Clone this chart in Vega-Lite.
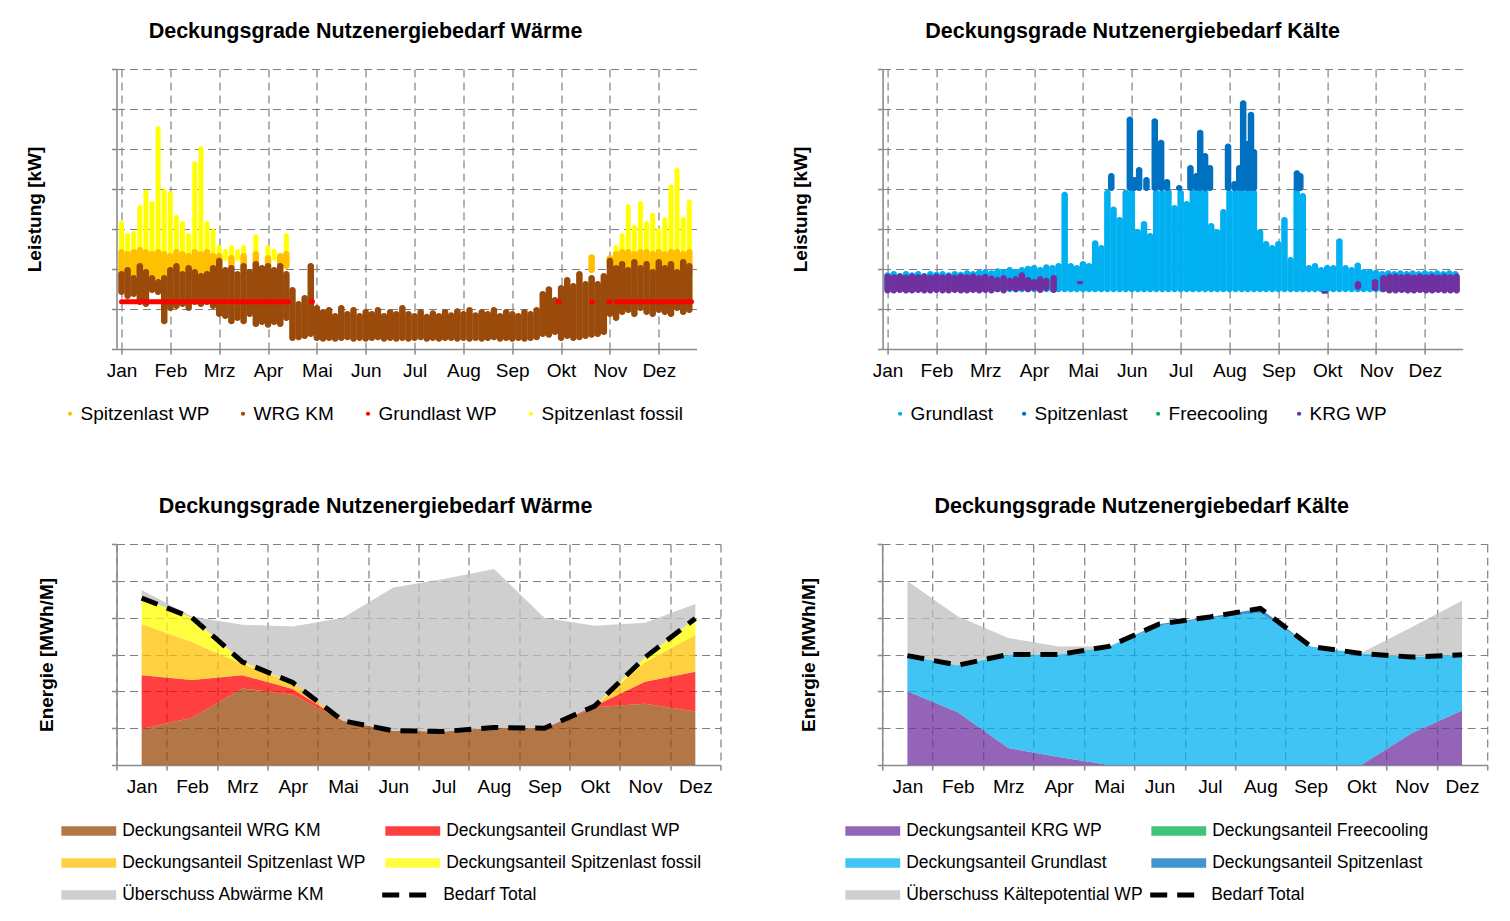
{
  "$schema": "https://vega.github.io/schema/vega-lite/v6.json",
  "background": "white",
  "padding": {"left": 25.5, "top": 20, "right": 5, "bottom": 5},
  "config": {
    "font": "Liberation Sans",
    "view": {"stroke": null},
    "axis": {
      "domainColor": "#8c8c8c", "domainWidth": 1.6,
      "tickColor": "#8c8c8c", "tickWidth": 1.6, "tickSize": 5,
      "grid": true, "gridColor": "#808080", "gridDash": [8, 5], "gridWidth": 1.2,
      "labelColor": "#000", "labelFontSize": 19, "labelPadding": 7, "labelFlush": false, "labelOverlap": false,
      "titleColor": "#000", "titleFontSize": 19, "titleFontWeight": "bold"
    },
    "title": {"fontSize": 21.5, "fontWeight": "bold", "color": "#000", "anchor": "middle", "frame": "group", "offset": 26},
    "legend": {"labelColor": "#000", "labelLimit": 500}
  },
  "datasets": {
    "tw": [
      {"s":"Spitzenlast fossil","t":0,"lo":2.2,"hi":3.2},
      {"s":"Spitzenlast fossil","t":0.125,"lo":2.2,"hi":2.9},
      {"s":"Spitzenlast fossil","t":0.25,"lo":2.2,"hi":2.95},
      {"s":"Spitzenlast fossil","t":0.375,"lo":2.2,"hi":3.6},
      {"s":"Spitzenlast fossil","t":0.5,"lo":2.2,"hi":3.99},
      {"s":"Spitzenlast fossil","t":0.625,"lo":2.2,"hi":3.7},
      {"s":"Spitzenlast fossil","t":0.75,"lo":2.2,"hi":5.57},
      {"s":"Spitzenlast fossil","t":0.875,"lo":2.2,"hi":4.0},
      {"s":"Spitzenlast fossil","t":1.0,"lo":2.2,"hi":3.95},
      {"s":"Spitzenlast fossil","t":1.125,"lo":2.2,"hi":3.35},
      {"s":"Spitzenlast fossil","t":1.25,"lo":2.2,"hi":3.2},
      {"s":"Spitzenlast fossil","t":1.375,"lo":2.2,"hi":2.9},
      {"s":"Spitzenlast fossil","t":1.5,"lo":2.2,"hi":4.7},
      {"s":"Spitzenlast fossil","t":1.625,"lo":2.2,"hi":5.07},
      {"s":"Spitzenlast fossil","t":1.75,"lo":2.2,"hi":3.2},
      {"s":"Spitzenlast fossil","t":1.875,"lo":2.2,"hi":3.0},
      {"s":"Spitzenlast fossil","t":2.0,"lo":2.2,"hi":2.6},
      {"s":"Spitzenlast fossil","t":2.125,"lo":2.2,"hi":2.5},
      {"s":"Spitzenlast fossil","t":2.25,"lo":2.2,"hi":2.6},
      {"s":"Spitzenlast fossil","t":2.375,"lo":2.2,"hi":2.5},
      {"s":"Spitzenlast fossil","t":2.5,"lo":2.2,"hi":2.6},
      {"s":"Spitzenlast fossil","t":2.75,"lo":2.2,"hi":2.87},
      {"s":"Spitzenlast fossil","t":3.0,"lo":2.2,"hi":2.6},
      {"s":"Spitzenlast fossil","t":3.125,"lo":2.2,"hi":2.5},
      {"s":"Spitzenlast fossil","t":3.375,"lo":2.2,"hi":2.9},
      {"s":"Spitzenlast fossil","t":10.125,"lo":2.2,"hi":2.6},
      {"s":"Spitzenlast fossil","t":10.25,"lo":2.2,"hi":2.9},
      {"s":"Spitzenlast fossil","t":10.375,"lo":2.2,"hi":3.62},
      {"s":"Spitzenlast fossil","t":10.5,"lo":2.2,"hi":3.1},
      {"s":"Spitzenlast fossil","t":10.625,"lo":2.2,"hi":3.7},
      {"s":"Spitzenlast fossil","t":10.75,"lo":2.2,"hi":3.2},
      {"s":"Spitzenlast fossil","t":10.875,"lo":2.2,"hi":3.41},
      {"s":"Spitzenlast fossil","t":11.0,"lo":2.2,"hi":3.03},
      {"s":"Spitzenlast fossil","t":11.125,"lo":2.2,"hi":3.3},
      {"s":"Spitzenlast fossil","t":11.25,"lo":2.2,"hi":4.12},
      {"s":"Spitzenlast fossil","t":11.375,"lo":2.2,"hi":4.53},
      {"s":"Spitzenlast fossil","t":11.5,"lo":2.2,"hi":3.3},
      {"s":"Spitzenlast fossil","t":11.625,"lo":2.2,"hi":3.74},
      {"s":"Spitzenlast WP","t":0,"lo":1.7,"hi":2.5},
      {"s":"Spitzenlast WP","t":0.125,"lo":1.7,"hi":2.45},
      {"s":"Spitzenlast WP","t":0.25,"lo":1.8,"hi":2.5},
      {"s":"Spitzenlast WP","t":0.375,"lo":1.8,"hi":2.55},
      {"s":"Spitzenlast WP","t":0.5,"lo":1.8,"hi":2.5},
      {"s":"Spitzenlast WP","t":0.625,"lo":1.8,"hi":2.45},
      {"s":"Spitzenlast WP","t":0.75,"lo":1.7,"hi":2.5},
      {"s":"Spitzenlast WP","t":0.875,"lo":1.7,"hi":2.45},
      {"s":"Spitzenlast WP","t":1.0,"lo":1.8,"hi":2.4},
      {"s":"Spitzenlast WP","t":1.125,"lo":1.8,"hi":2.5},
      {"s":"Spitzenlast WP","t":1.25,"lo":1.8,"hi":2.45},
      {"s":"Spitzenlast WP","t":1.375,"lo":1.8,"hi":2.4},
      {"s":"Spitzenlast WP","t":1.5,"lo":1.8,"hi":2.5},
      {"s":"Spitzenlast WP","t":1.625,"lo":1.8,"hi":2.45},
      {"s":"Spitzenlast WP","t":1.75,"lo":1.8,"hi":2.5},
      {"s":"Spitzenlast WP","t":1.875,"lo":1.9,"hi":2.4},
      {"s":"Spitzenlast WP","t":2.0,"lo":2.0,"hi":2.4},
      {"s":"Spitzenlast WP","t":2.25,"lo":2.0,"hi":2.35},
      {"s":"Spitzenlast WP","t":2.5,"lo":2.0,"hi":2.4},
      {"s":"Spitzenlast WP","t":2.75,"lo":2.0,"hi":2.45},
      {"s":"Spitzenlast WP","t":3.0,"lo":2.0,"hi":2.35},
      {"s":"Spitzenlast WP","t":3.25,"lo":2.0,"hi":2.4},
      {"s":"Spitzenlast WP","t":3.375,"lo":2.0,"hi":2.45},
      {"s":"Spitzenlast WP","t":9.625,"lo":1.9,"hi":2.37},
      {"s":"Spitzenlast WP","t":10.0,"lo":2.0,"hi":2.35},
      {"s":"Spitzenlast WP","t":10.125,"lo":1.8,"hi":2.45},
      {"s":"Spitzenlast WP","t":10.25,"lo":1.8,"hi":2.5},
      {"s":"Spitzenlast WP","t":10.375,"lo":1.8,"hi":2.5},
      {"s":"Spitzenlast WP","t":10.5,"lo":1.8,"hi":2.45},
      {"s":"Spitzenlast WP","t":10.625,"lo":1.8,"hi":2.5},
      {"s":"Spitzenlast WP","t":10.75,"lo":1.8,"hi":2.5},
      {"s":"Spitzenlast WP","t":10.875,"lo":1.8,"hi":2.45},
      {"s":"Spitzenlast WP","t":11.0,"lo":1.8,"hi":2.5},
      {"s":"Spitzenlast WP","t":11.125,"lo":1.8,"hi":2.45},
      {"s":"Spitzenlast WP","t":11.25,"lo":1.8,"hi":2.5},
      {"s":"Spitzenlast WP","t":11.375,"lo":1.8,"hi":2.5},
      {"s":"Spitzenlast WP","t":11.5,"lo":1.8,"hi":2.45},
      {"s":"Spitzenlast WP","t":11.625,"lo":1.8,"hi":2.5},
      {"s":"WRG KM","t":0,"lo":1.35,"hi":1.95},
      {"s":"WRG KM","t":0.125,"lo":1.25,"hi":2.05},
      {"s":"WRG KM","t":0.25,"lo":1.3,"hi":1.85},
      {"s":"WRG KM","t":0.375,"lo":1.1,"hi":2.15},
      {"s":"WRG KM","t":0.5,"lo":1.05,"hi":2.0},
      {"s":"WRG KM","t":0.625,"lo":1.4,"hi":1.85},
      {"s":"WRG KM","t":0.75,"lo":1.35,"hi":1.75},
      {"s":"WRG KM","t":0.875,"lo":0.62,"hi":1.85},
      {"s":"WRG KM","t":1.0,"lo":0.95,"hi":2.05},
      {"s":"WRG KM","t":1.125,"lo":1.0,"hi":2.15},
      {"s":"WRG KM","t":1.25,"lo":1.05,"hi":1.95},
      {"s":"WRG KM","t":1.375,"lo":0.95,"hi":2.1},
      {"s":"WRG KM","t":1.5,"lo":1.1,"hi":2.0},
      {"s":"WRG KM","t":1.625,"lo":1.05,"hi":1.9},
      {"s":"WRG KM","t":1.75,"lo":1.1,"hi":1.95},
      {"s":"WRG KM","t":1.875,"lo":1.0,"hi":2.1},
      {"s":"WRG KM","t":2.0,"lo":0.8,"hi":2.28},
      {"s":"WRG KM","t":2.125,"lo":0.75,"hi":2.05},
      {"s":"WRG KM","t":2.25,"lo":0.62,"hi":2.1},
      {"s":"WRG KM","t":2.375,"lo":0.7,"hi":1.95},
      {"s":"WRG KM","t":2.5,"lo":0.62,"hi":2.15},
      {"s":"WRG KM","t":2.625,"lo":0.8,"hi":2.0},
      {"s":"WRG KM","t":2.75,"lo":0.55,"hi":2.2},
      {"s":"WRG KM","t":2.875,"lo":0.6,"hi":2.1},
      {"s":"WRG KM","t":3.0,"lo":0.53,"hi":2.15},
      {"s":"WRG KM","t":3.125,"lo":0.6,"hi":2.05},
      {"s":"WRG KM","t":3.25,"lo":0.55,"hi":2.15},
      {"s":"WRG KM","t":3.375,"lo":0.7,"hi":1.95},
      {"s":"WRG KM","t":3.5,"lo":0.2,"hi":1.55},
      {"s":"WRG KM","t":3.625,"lo":0.22,"hi":1.2},
      {"s":"WRG KM","t":3.75,"lo":0.25,"hi":1.35},
      {"s":"WRG KM","t":3.875,"lo":0.3,"hi":2.15},
      {"s":"WRG KM","t":4.0,"lo":0.2,"hi":1.1},
      {"s":"WRG KM","t":4.125,"lo":0.18,"hi":1.0},
      {"s":"WRG KM","t":4.25,"lo":0.2,"hi":1.05},
      {"s":"WRG KM","t":4.375,"lo":0.18,"hi":0.9},
      {"s":"WRG KM","t":4.5,"lo":0.2,"hi":1.1},
      {"s":"WRG KM","t":4.625,"lo":0.22,"hi":0.95},
      {"s":"WRG KM","t":4.75,"lo":0.18,"hi":1.05},
      {"s":"WRG KM","t":4.875,"lo":0.2,"hi":0.9},
      {"s":"WRG KM","t":5.0,"lo":0.18,"hi":1.0},
      {"s":"WRG KM","t":5.125,"lo":0.2,"hi":0.95},
      {"s":"WRG KM","t":5.25,"lo":0.22,"hi":1.05},
      {"s":"WRG KM","t":5.375,"lo":0.18,"hi":0.9},
      {"s":"WRG KM","t":5.5,"lo":0.2,"hi":1.0},
      {"s":"WRG KM","t":5.625,"lo":0.18,"hi":0.95},
      {"s":"WRG KM","t":5.75,"lo":0.2,"hi":1.1},
      {"s":"WRG KM","t":5.875,"lo":0.18,"hi":0.95},
      {"s":"WRG KM","t":6.0,"lo":0.2,"hi":0.9},
      {"s":"WRG KM","t":6.125,"lo":0.22,"hi":1.0},
      {"s":"WRG KM","t":6.25,"lo":0.18,"hi":0.88},
      {"s":"WRG KM","t":6.375,"lo":0.2,"hi":0.97},
      {"s":"WRG KM","t":6.5,"lo":0.18,"hi":0.9},
      {"s":"WRG KM","t":6.625,"lo":0.2,"hi":1.0},
      {"s":"WRG KM","t":6.75,"lo":0.2,"hi":0.92},
      {"s":"WRG KM","t":6.875,"lo":0.18,"hi":1.02},
      {"s":"WRG KM","t":7.0,"lo":0.2,"hi":0.95},
      {"s":"WRG KM","t":7.125,"lo":0.18,"hi":1.05},
      {"s":"WRG KM","t":7.25,"lo":0.2,"hi":0.92},
      {"s":"WRG KM","t":7.375,"lo":0.18,"hi":1.0},
      {"s":"WRG KM","t":7.5,"lo":0.2,"hi":0.95},
      {"s":"WRG KM","t":7.625,"lo":0.22,"hi":1.05},
      {"s":"WRG KM","t":7.75,"lo":0.18,"hi":0.9},
      {"s":"WRG KM","t":7.875,"lo":0.2,"hi":1.0},
      {"s":"WRG KM","t":8.0,"lo":0.18,"hi":0.95},
      {"s":"WRG KM","t":8.125,"lo":0.2,"hi":0.9},
      {"s":"WRG KM","t":8.25,"lo":0.18,"hi":1.0},
      {"s":"WRG KM","t":8.375,"lo":0.2,"hi":0.95},
      {"s":"WRG KM","t":8.5,"lo":0.22,"hi":1.05},
      {"s":"WRG KM","t":8.625,"lo":0.3,"hi":1.45},
      {"s":"WRG KM","t":8.75,"lo":0.28,"hi":1.57},
      {"s":"WRG KM","t":8.875,"lo":0.35,"hi":1.3},
      {"s":"WRG KM","t":9.0,"lo":0.2,"hi":1.6},
      {"s":"WRG KM","t":9.125,"lo":0.25,"hi":1.8},
      {"s":"WRG KM","t":9.25,"lo":0.2,"hi":1.65},
      {"s":"WRG KM","t":9.375,"lo":0.22,"hi":1.95},
      {"s":"WRG KM","t":9.5,"lo":0.25,"hi":1.7},
      {"s":"WRG KM","t":9.625,"lo":0.28,"hi":1.85},
      {"s":"WRG KM","t":9.75,"lo":0.3,"hi":1.7},
      {"s":"WRG KM","t":9.875,"lo":0.35,"hi":1.9},
      {"s":"WRG KM","t":10.0,"lo":0.8,"hi":2.28},
      {"s":"WRG KM","t":10.125,"lo":0.7,"hi":2.1},
      {"s":"WRG KM","t":10.25,"lo":0.85,"hi":2.2},
      {"s":"WRG KM","t":10.375,"lo":0.9,"hi":2.05},
      {"s":"WRG KM","t":10.5,"lo":0.8,"hi":2.25},
      {"s":"WRG KM","t":10.625,"lo":0.95,"hi":2.1},
      {"s":"WRG KM","t":10.75,"lo":0.85,"hi":2.2},
      {"s":"WRG KM","t":10.875,"lo":0.8,"hi":2.0},
      {"s":"WRG KM","t":11.0,"lo":0.9,"hi":2.25},
      {"s":"WRG KM","t":11.125,"lo":0.85,"hi":2.1},
      {"s":"WRG KM","t":11.25,"lo":0.8,"hi":2.2},
      {"s":"WRG KM","t":11.375,"lo":0.95,"hi":2.0},
      {"s":"WRG KM","t":11.5,"lo":0.85,"hi":2.25},
      {"s":"WRG KM","t":11.625,"lo":0.9,"hi":2.15},
      {"s":"Grundlast WP","t":0,"t2":3.42,"lo":1.18,"hi":1.18},
      {"s":"Grundlast WP","t":3.89,"t2":3.91,"lo":1.18,"hi":1.18},
      {"s":"Grundlast WP","t":8.94,"t2":8.96,"lo":1.18,"hi":1.18},
      {"s":"Grundlast WP","t":9.62,"t2":9.64,"lo":1.18,"hi":1.18},
      {"s":"Grundlast WP","t":9.98,"t2":10.0,"lo":1.18,"hi":1.18},
      {"s":"Grundlast WP","t":10.13,"t2":11.67,"lo":1.18,"hi":1.18}
    ],
    "tk": [
      {"s":"Grundlast","t":0,"lo":1.42,"hi":1.92},
      {"s":"Grundlast","t":0.125,"lo":1.42,"hi":1.95},
      {"s":"Grundlast","t":0.25,"lo":1.42,"hi":1.9},
      {"s":"Grundlast","t":0.375,"lo":1.42,"hi":1.95},
      {"s":"Grundlast","t":0.5,"lo":1.42,"hi":1.92},
      {"s":"Grundlast","t":0.625,"lo":1.42,"hi":1.95},
      {"s":"Grundlast","t":0.75,"lo":1.42,"hi":1.9},
      {"s":"Grundlast","t":0.875,"lo":1.42,"hi":1.95},
      {"s":"Grundlast","t":1.0,"lo":1.42,"hi":1.93},
      {"s":"Grundlast","t":1.125,"lo":1.42,"hi":1.95},
      {"s":"Grundlast","t":1.25,"lo":1.42,"hi":1.92},
      {"s":"Grundlast","t":1.375,"lo":1.42,"hi":1.95},
      {"s":"Grundlast","t":1.5,"lo":1.42,"hi":1.93},
      {"s":"Grundlast","t":1.625,"lo":1.42,"hi":1.97},
      {"s":"Grundlast","t":1.75,"lo":1.42,"hi":1.95},
      {"s":"Grundlast","t":1.875,"lo":1.42,"hi":1.98},
      {"s":"Grundlast","t":2.0,"lo":1.42,"hi":2.0},
      {"s":"Grundlast","t":2.125,"lo":1.42,"hi":1.97},
      {"s":"Grundlast","t":2.25,"lo":1.42,"hi":2.02},
      {"s":"Grundlast","t":2.375,"lo":1.42,"hi":2.0},
      {"s":"Grundlast","t":2.5,"lo":1.42,"hi":2.05},
      {"s":"Grundlast","t":2.625,"lo":1.42,"hi":2.0},
      {"s":"Grundlast","t":2.75,"lo":1.42,"hi":2.05},
      {"s":"Grundlast","t":2.875,"lo":1.42,"hi":2.08},
      {"s":"Grundlast","t":3.0,"lo":1.42,"hi":2.1},
      {"s":"Grundlast","t":3.125,"lo":1.42,"hi":2.05},
      {"s":"Grundlast","t":3.25,"lo":1.42,"hi":2.12},
      {"s":"Grundlast","t":3.375,"lo":1.42,"hi":2.1},
      {"s":"Grundlast","t":3.5,"lo":1.42,"hi":2.15},
      {"s":"Grundlast","t":3.625,"lo":1.42,"hi":3.93},
      {"s":"Grundlast","t":3.75,"lo":1.42,"hi":2.15},
      {"s":"Grundlast","t":3.875,"lo":1.42,"hi":2.1},
      {"s":"Grundlast","t":4.0,"lo":1.42,"hi":2.2},
      {"s":"Grundlast","t":4.125,"lo":1.42,"hi":2.15},
      {"s":"Grundlast","t":4.25,"lo":1.42,"hi":2.72},
      {"s":"Grundlast","t":4.375,"lo":1.42,"hi":2.6},
      {"s":"Grundlast","t":4.5,"lo":1.42,"hi":3.98},
      {"s":"Grundlast","t":4.625,"lo":1.42,"hi":3.56},
      {"s":"Grundlast","t":4.75,"lo":1.42,"hi":3.3},
      {"s":"Grundlast","t":4.875,"lo":1.42,"hi":3.98},
      {"s":"Grundlast","t":5.0,"lo":1.42,"hi":3.98},
      {"s":"Grundlast","t":5.125,"lo":1.42,"hi":3.0},
      {"s":"Grundlast","t":5.25,"lo":1.42,"hi":3.2},
      {"s":"Grundlast","t":5.375,"lo":1.42,"hi":2.9},
      {"s":"Grundlast","t":5.5,"lo":1.42,"hi":3.98},
      {"s":"Grundlast","t":5.625,"lo":1.42,"hi":3.98},
      {"s":"Grundlast","t":5.75,"lo":1.42,"hi":4.0},
      {"s":"Grundlast","t":5.875,"lo":1.42,"hi":3.6},
      {"s":"Grundlast","t":6.0,"lo":1.42,"hi":3.98},
      {"s":"Grundlast","t":6.125,"lo":1.42,"hi":3.7},
      {"s":"Grundlast","t":6.25,"lo":1.42,"hi":3.98},
      {"s":"Grundlast","t":6.375,"lo":1.42,"hi":3.98},
      {"s":"Grundlast","t":6.5,"lo":1.42,"hi":4.0},
      {"s":"Grundlast","t":6.625,"lo":1.42,"hi":3.15},
      {"s":"Grundlast","t":6.75,"lo":1.42,"hi":3.0},
      {"s":"Grundlast","t":6.875,"lo":1.42,"hi":3.5},
      {"s":"Grundlast","t":7.0,"lo":1.42,"hi":3.98},
      {"s":"Grundlast","t":7.125,"lo":1.42,"hi":4.0},
      {"s":"Grundlast","t":7.25,"lo":1.42,"hi":3.98},
      {"s":"Grundlast","t":7.375,"lo":1.42,"hi":4.0},
      {"s":"Grundlast","t":7.5,"lo":1.42,"hi":3.98},
      {"s":"Grundlast","t":7.625,"lo":1.42,"hi":3.0},
      {"s":"Grundlast","t":7.75,"lo":1.42,"hi":2.7},
      {"s":"Grundlast","t":7.875,"lo":1.42,"hi":2.6},
      {"s":"Grundlast","t":8.0,"lo":1.42,"hi":2.7},
      {"s":"Grundlast","t":8.125,"lo":1.42,"hi":3.3},
      {"s":"Grundlast","t":8.25,"lo":1.42,"hi":2.3},
      {"s":"Grundlast","t":8.375,"lo":1.42,"hi":4.06},
      {"s":"Grundlast","t":8.5,"lo":1.42,"hi":3.9},
      {"s":"Grundlast","t":8.625,"lo":1.42,"hi":2.1},
      {"s":"Grundlast","t":8.75,"lo":1.42,"hi":2.15},
      {"s":"Grundlast","t":8.875,"lo":1.42,"hi":2.05},
      {"s":"Grundlast","t":9.0,"lo":1.42,"hi":2.1},
      {"s":"Grundlast","t":9.125,"lo":1.42,"hi":2.1},
      {"s":"Grundlast","t":9.25,"lo":1.42,"hi":2.77},
      {"s":"Grundlast","t":9.375,"lo":1.42,"hi":2.1},
      {"s":"Grundlast","t":9.5,"lo":1.42,"hi":2.05},
      {"s":"Grundlast","t":9.625,"lo":1.42,"hi":2.16},
      {"s":"Grundlast","t":9.75,"lo":1.42,"hi":2.0},
      {"s":"Grundlast","t":9.875,"lo":1.42,"hi":2.0},
      {"s":"Grundlast","t":10.0,"lo":1.42,"hi":1.98},
      {"s":"Grundlast","t":10.125,"lo":1.42,"hi":1.95},
      {"s":"Grundlast","t":10.25,"lo":1.42,"hi":1.97},
      {"s":"Grundlast","t":10.375,"lo":1.42,"hi":1.95},
      {"s":"Grundlast","t":10.5,"lo":1.42,"hi":1.97},
      {"s":"Grundlast","t":10.625,"lo":1.42,"hi":1.95},
      {"s":"Grundlast","t":10.75,"lo":1.42,"hi":1.97},
      {"s":"Grundlast","t":10.875,"lo":1.42,"hi":1.95},
      {"s":"Grundlast","t":11.0,"lo":1.42,"hi":1.97},
      {"s":"Grundlast","t":11.125,"lo":1.42,"hi":1.95},
      {"s":"Grundlast","t":11.25,"lo":1.42,"hi":1.97},
      {"s":"Grundlast","t":11.375,"lo":1.42,"hi":1.95},
      {"s":"Grundlast","t":11.5,"lo":1.42,"hi":1.97},
      {"s":"Grundlast","t":11.625,"lo":1.42,"hi":1.95},
      {"s":"Spitzenlast","t":4.58,"lo":3.95,"hi":4.4},
      {"s":"Spitzenlast","t":4.96,"lo":3.95,"hi":5.81},
      {"s":"Spitzenlast","t":5.05,"lo":3.95,"hi":4.3},
      {"s":"Spitzenlast","t":5.15,"lo":3.95,"hi":4.55},
      {"s":"Spitzenlast","t":5.3,"lo":3.95,"hi":4.3},
      {"s":"Spitzenlast","t":5.47,"lo":3.95,"hi":5.77},
      {"s":"Spitzenlast","t":5.6,"lo":3.95,"hi":5.23},
      {"s":"Spitzenlast","t":5.72,"lo":3.95,"hi":4.25},
      {"s":"Spitzenlast","t":5.97,"lo":3.95,"hi":4.1},
      {"s":"Spitzenlast","t":6.2,"lo":3.95,"hi":4.6},
      {"s":"Spitzenlast","t":6.32,"lo":3.95,"hi":4.4},
      {"s":"Spitzenlast","t":6.4,"lo":3.95,"hi":5.48},
      {"s":"Spitzenlast","t":6.5,"lo":3.95,"hi":4.9},
      {"s":"Spitzenlast","t":6.6,"lo":3.95,"hi":4.6},
      {"s":"Spitzenlast","t":6.97,"lo":3.95,"hi":5.14},
      {"s":"Spitzenlast","t":7.1,"lo":3.95,"hi":4.2},
      {"s":"Spitzenlast","t":7.2,"lo":3.95,"hi":4.6},
      {"s":"Spitzenlast","t":7.28,"lo":3.95,"hi":6.22},
      {"s":"Spitzenlast","t":7.36,"lo":3.95,"hi":5.2},
      {"s":"Spitzenlast","t":7.44,"lo":3.95,"hi":5.93},
      {"s":"Spitzenlast","t":7.5,"lo":3.95,"hi":5.0},
      {"s":"Spitzenlast","t":8.38,"lo":3.95,"hi":4.47},
      {"s":"Spitzenlast","t":8.45,"lo":3.95,"hi":4.4},
      {"s":"KRG WP","t":0,"lo":1.39,"hi":1.89},
      {"s":"KRG WP","t":0.125,"lo":1.39,"hi":1.87},
      {"s":"KRG WP","t":0.25,"lo":1.4,"hi":1.89},
      {"s":"KRG WP","t":0.375,"lo":1.39,"hi":1.86},
      {"s":"KRG WP","t":0.5,"lo":1.39,"hi":1.89},
      {"s":"KRG WP","t":0.625,"lo":1.4,"hi":1.87},
      {"s":"KRG WP","t":0.75,"lo":1.39,"hi":1.89},
      {"s":"KRG WP","t":0.875,"lo":1.39,"hi":1.86},
      {"s":"KRG WP","t":1.0,"lo":1.4,"hi":1.89},
      {"s":"KRG WP","t":1.125,"lo":1.39,"hi":1.87},
      {"s":"KRG WP","t":1.25,"lo":1.39,"hi":1.89},
      {"s":"KRG WP","t":1.375,"lo":1.4,"hi":1.86},
      {"s":"KRG WP","t":1.5,"lo":1.39,"hi":1.89},
      {"s":"KRG WP","t":1.625,"lo":1.39,"hi":1.87},
      {"s":"KRG WP","t":1.75,"lo":1.4,"hi":1.89},
      {"s":"KRG WP","t":1.875,"lo":1.39,"hi":1.85},
      {"s":"KRG WP","t":2.0,"lo":1.4,"hi":1.88},
      {"s":"KRG WP","t":2.125,"lo":1.39,"hi":1.84},
      {"s":"KRG WP","t":2.25,"lo":1.42,"hi":1.8},
      {"s":"KRG WP","t":2.375,"lo":1.39,"hi":1.85},
      {"s":"KRG WP","t":2.5,"lo":1.45,"hi":1.78},
      {"s":"KRG WP","t":2.625,"lo":1.42,"hi":1.82},
      {"s":"KRG WP","t":2.75,"lo":1.45,"hi":1.92},
      {"s":"KRG WP","t":2.875,"lo":1.42,"hi":1.8},
      {"s":"KRG WP","t":3.0,"lo":1.45,"hi":1.75},
      {"s":"KRG WP","t":3.125,"lo":1.4,"hi":1.82},
      {"s":"KRG WP","t":3.25,"lo":1.45,"hi":1.78},
      {"s":"KRG WP","t":3.4,"lo":1.4,"hi":1.85},
      {"s":"KRG WP","t":3.94,"lo":1.62,"hi":1.7},
      {"s":"KRG WP","t":8.95,"lo":1.38,"hi":1.45},
      {"s":"KRG WP","t":9.63,"lo":1.48,"hi":1.7},
      {"s":"KRG WP","t":9.98,"lo":1.45,"hi":1.75},
      {"s":"KRG WP","t":10.15,"lo":1.42,"hi":1.85},
      {"s":"KRG WP","t":10.275,"lo":1.39,"hi":1.88},
      {"s":"KRG WP","t":10.4,"lo":1.39,"hi":1.89},
      {"s":"KRG WP","t":10.525,"lo":1.4,"hi":1.87},
      {"s":"KRG WP","t":10.65,"lo":1.39,"hi":1.89},
      {"s":"KRG WP","t":10.775,"lo":1.39,"hi":1.86},
      {"s":"KRG WP","t":10.9,"lo":1.4,"hi":1.89},
      {"s":"KRG WP","t":11.025,"lo":1.39,"hi":1.87},
      {"s":"KRG WP","t":11.15,"lo":1.39,"hi":1.89},
      {"s":"KRG WP","t":11.275,"lo":1.4,"hi":1.86},
      {"s":"KRG WP","t":11.4,"lo":1.39,"hi":1.89},
      {"s":"KRG WP","t":11.525,"lo":1.39,"hi":1.87},
      {"s":"KRG WP","t":11.65,"lo":1.39,"hi":1.89}
    ],
    "bw": [
      {"m":"Jan","s":"Deckungsanteil WRG KM","lo":0,"hi":0.98},
      {"m":"Feb","s":"Deckungsanteil WRG KM","lo":0,"hi":1.28},
      {"m":"Mrz","s":"Deckungsanteil WRG KM","lo":0,"hi":2.08},
      {"m":"Apr","s":"Deckungsanteil WRG KM","lo":0,"hi":1.91},
      {"m":"Mai","s":"Deckungsanteil WRG KM","lo":0,"hi":1.2},
      {"m":"Jun","s":"Deckungsanteil WRG KM","lo":0,"hi":0.93},
      {"m":"Jul","s":"Deckungsanteil WRG KM","lo":0,"hi":0.91},
      {"m":"Aug","s":"Deckungsanteil WRG KM","lo":0,"hi":1.02},
      {"m":"Sep","s":"Deckungsanteil WRG KM","lo":0,"hi":1.0},
      {"m":"Okt","s":"Deckungsanteil WRG KM","lo":0,"hi":1.57},
      {"m":"Nov","s":"Deckungsanteil WRG KM","lo":0,"hi":1.66},
      {"m":"Dez","s":"Deckungsanteil WRG KM","lo":0,"hi":1.45},
      {"m":"Jan","s":"Deckungsanteil Grundlast WP","lo":0.98,"hi":2.44},
      {"m":"Feb","s":"Deckungsanteil Grundlast WP","lo":1.28,"hi":2.31},
      {"m":"Mrz","s":"Deckungsanteil Grundlast WP","lo":2.08,"hi":2.44},
      {"m":"Apr","s":"Deckungsanteil Grundlast WP","lo":1.91,"hi":2.06},
      {"m":"Mai","s":"Deckungsanteil Grundlast WP","lo":1.2,"hi":1.2},
      {"m":"Jun","s":"Deckungsanteil Grundlast WP","lo":0.93,"hi":0.93},
      {"m":"Jul","s":"Deckungsanteil Grundlast WP","lo":0.91,"hi":0.91},
      {"m":"Aug","s":"Deckungsanteil Grundlast WP","lo":1.02,"hi":1.02},
      {"m":"Sep","s":"Deckungsanteil Grundlast WP","lo":1.0,"hi":1.0},
      {"m":"Okt","s":"Deckungsanteil Grundlast WP","lo":1.57,"hi":1.6},
      {"m":"Nov","s":"Deckungsanteil Grundlast WP","lo":1.66,"hi":2.26},
      {"m":"Dez","s":"Deckungsanteil Grundlast WP","lo":1.45,"hi":2.53},
      {"m":"Jan","s":"Deckungsanteil Spitzenlast WP","lo":2.44,"hi":3.83},
      {"m":"Feb","s":"Deckungsanteil Spitzenlast WP","lo":2.31,"hi":3.33},
      {"m":"Mrz","s":"Deckungsanteil Spitzenlast WP","lo":2.44,"hi":2.74},
      {"m":"Apr","s":"Deckungsanteil Spitzenlast WP","lo":2.06,"hi":2.24},
      {"m":"Mai","s":"Deckungsanteil Spitzenlast WP","lo":1.2,"hi":1.2},
      {"m":"Jun","s":"Deckungsanteil Spitzenlast WP","lo":0.93,"hi":0.93},
      {"m":"Jul","s":"Deckungsanteil Spitzenlast WP","lo":0.91,"hi":0.91},
      {"m":"Aug","s":"Deckungsanteil Spitzenlast WP","lo":1.02,"hi":1.02},
      {"m":"Sep","s":"Deckungsanteil Spitzenlast WP","lo":1.0,"hi":1.0},
      {"m":"Okt","s":"Deckungsanteil Spitzenlast WP","lo":1.6,"hi":1.6},
      {"m":"Nov","s":"Deckungsanteil Spitzenlast WP","lo":2.26,"hi":2.79},
      {"m":"Dez","s":"Deckungsanteil Spitzenlast WP","lo":2.53,"hi":3.53},
      {"m":"Jan","s":"Deckungsanteil Spitzenlast fossil","lo":3.83,"hi":4.53},
      {"m":"Feb","s":"Deckungsanteil Spitzenlast fossil","lo":3.33,"hi":4.0},
      {"m":"Mrz","s":"Deckungsanteil Spitzenlast fossil","lo":2.74,"hi":2.8},
      {"m":"Apr","s":"Deckungsanteil Spitzenlast fossil","lo":2.24,"hi":2.24},
      {"m":"Mai","s":"Deckungsanteil Spitzenlast fossil","lo":1.2,"hi":1.2},
      {"m":"Jun","s":"Deckungsanteil Spitzenlast fossil","lo":0.93,"hi":0.93},
      {"m":"Jul","s":"Deckungsanteil Spitzenlast fossil","lo":0.91,"hi":0.91},
      {"m":"Aug","s":"Deckungsanteil Spitzenlast fossil","lo":1.02,"hi":1.02},
      {"m":"Sep","s":"Deckungsanteil Spitzenlast fossil","lo":1.0,"hi":1.0},
      {"m":"Okt","s":"Deckungsanteil Spitzenlast fossil","lo":1.6,"hi":1.6},
      {"m":"Nov","s":"Deckungsanteil Spitzenlast fossil","lo":2.79,"hi":2.92},
      {"m":"Dez","s":"Deckungsanteil Spitzenlast fossil","lo":3.53,"hi":3.98},
      {"m":"Jan","s":"Überschuss Abwärme KM","lo":4.53,"hi":4.75},
      {"m":"Feb","s":"Überschuss Abwärme KM","lo":4.0,"hi":4.03},
      {"m":"Mrz","s":"Überschuss Abwärme KM","lo":2.8,"hi":3.81},
      {"m":"Apr","s":"Überschuss Abwärme KM","lo":2.24,"hi":3.76},
      {"m":"Mai","s":"Überschuss Abwärme KM","lo":1.2,"hi":4.0},
      {"m":"Jun","s":"Überschuss Abwärme KM","lo":0.93,"hi":4.82},
      {"m":"Jul","s":"Überschuss Abwärme KM","lo":0.91,"hi":5.05},
      {"m":"Aug","s":"Überschuss Abwärme KM","lo":1.02,"hi":5.32},
      {"m":"Sep","s":"Überschuss Abwärme KM","lo":1.0,"hi":4.0},
      {"m":"Okt","s":"Überschuss Abwärme KM","lo":1.6,"hi":3.78},
      {"m":"Nov","s":"Überschuss Abwärme KM","lo":2.92,"hi":3.86},
      {"m":"Dez","s":"Überschuss Abwärme KM","lo":3.98,"hi":4.37},
      {"m":"Jan","s":"Bedarf Total","lo":4.53,"hi":4.53},
      {"m":"Feb","s":"Bedarf Total","lo":4.0,"hi":4.0},
      {"m":"Mrz","s":"Bedarf Total","lo":2.8,"hi":2.8},
      {"m":"Apr","s":"Bedarf Total","lo":2.24,"hi":2.24},
      {"m":"Mai","s":"Bedarf Total","lo":1.2,"hi":1.2},
      {"m":"Jun","s":"Bedarf Total","lo":0.93,"hi":0.93},
      {"m":"Jul","s":"Bedarf Total","lo":0.91,"hi":0.91},
      {"m":"Aug","s":"Bedarf Total","lo":1.02,"hi":1.02},
      {"m":"Sep","s":"Bedarf Total","lo":1.0,"hi":1.0},
      {"m":"Okt","s":"Bedarf Total","lo":1.6,"hi":1.6},
      {"m":"Nov","s":"Bedarf Total","lo":2.92,"hi":2.92},
      {"m":"Dez","s":"Bedarf Total","lo":3.98,"hi":3.98}
    ],
    "bk": [
      {"m":"Jan","s":"Deckungsanteil KRG WP","lo":0,"hi":2.0},
      {"m":"Feb","s":"Deckungsanteil KRG WP","lo":0,"hi":1.43},
      {"m":"Mrz","s":"Deckungsanteil KRG WP","lo":0,"hi":0.46},
      {"m":"Apr","s":"Deckungsanteil KRG WP","lo":0,"hi":0.22},
      {"m":"Mai","s":"Deckungsanteil KRG WP","lo":0,"hi":0},
      {"m":"Jun","s":"Deckungsanteil KRG WP","lo":0,"hi":0},
      {"m":"Jul","s":"Deckungsanteil KRG WP","lo":0,"hi":0},
      {"m":"Aug","s":"Deckungsanteil KRG WP","lo":0,"hi":0},
      {"m":"Sep","s":"Deckungsanteil KRG WP","lo":0,"hi":0},
      {"m":"Okt","s":"Deckungsanteil KRG WP","lo":0,"hi":0},
      {"m":"Nov","s":"Deckungsanteil KRG WP","lo":0,"hi":0.86},
      {"m":"Dez","s":"Deckungsanteil KRG WP","lo":0,"hi":1.48},
      {"m":"Jan","s":"Deckungsanteil Grundlast","lo":2.0,"hi":2.97},
      {"m":"Feb","s":"Deckungsanteil Grundlast","lo":1.43,"hi":2.71},
      {"m":"Mrz","s":"Deckungsanteil Grundlast","lo":0.46,"hi":3.0},
      {"m":"Apr","s":"Deckungsanteil Grundlast","lo":0.22,"hi":3.0},
      {"m":"Mai","s":"Deckungsanteil Grundlast","lo":0,"hi":3.22},
      {"m":"Jun","s":"Deckungsanteil Grundlast","lo":0,"hi":3.79},
      {"m":"Jul","s":"Deckungsanteil Grundlast","lo":0,"hi":3.99},
      {"m":"Aug","s":"Deckungsanteil Grundlast","lo":0,"hi":4.13},
      {"m":"Sep","s":"Deckungsanteil Grundlast","lo":0,"hi":3.22},
      {"m":"Okt","s":"Deckungsanteil Grundlast","lo":0,"hi":3.03},
      {"m":"Nov","s":"Deckungsanteil Grundlast","lo":0.86,"hi":2.93},
      {"m":"Dez","s":"Deckungsanteil Grundlast","lo":1.48,"hi":2.99},
      {"m":"Jan","s":"Deckungsanteil Spitzenlast","lo":2.97,"hi":2.97},
      {"m":"Feb","s":"Deckungsanteil Spitzenlast","lo":2.71,"hi":2.71},
      {"m":"Mrz","s":"Deckungsanteil Spitzenlast","lo":3.0,"hi":3.0},
      {"m":"Apr","s":"Deckungsanteil Spitzenlast","lo":3.0,"hi":3.0},
      {"m":"Mai","s":"Deckungsanteil Spitzenlast","lo":3.22,"hi":3.22},
      {"m":"Jun","s":"Deckungsanteil Spitzenlast","lo":3.79,"hi":3.83},
      {"m":"Jul","s":"Deckungsanteil Spitzenlast","lo":3.99,"hi":4.02},
      {"m":"Aug","s":"Deckungsanteil Spitzenlast","lo":4.13,"hi":4.25},
      {"m":"Sep","s":"Deckungsanteil Spitzenlast","lo":3.22,"hi":3.22},
      {"m":"Okt","s":"Deckungsanteil Spitzenlast","lo":3.03,"hi":3.03},
      {"m":"Nov","s":"Deckungsanteil Spitzenlast","lo":2.93,"hi":2.93},
      {"m":"Dez","s":"Deckungsanteil Spitzenlast","lo":2.99,"hi":2.99},
      {"m":"Jan","s":"Überschuss Kältepotential WP","lo":2.97,"hi":4.99},
      {"m":"Feb","s":"Überschuss Kältepotential WP","lo":2.71,"hi":4.04},
      {"m":"Mrz","s":"Überschuss Kältepotential WP","lo":3.0,"hi":3.45},
      {"m":"Apr","s":"Überschuss Kältepotential WP","lo":3.0,"hi":3.22},
      {"m":"Mai","s":"Überschuss Kältepotential WP","lo":3.22,"hi":3.22},
      {"m":"Jun","s":"Überschuss Kältepotential WP","lo":3.83,"hi":3.83},
      {"m":"Jul","s":"Überschuss Kältepotential WP","lo":4.02,"hi":4.02},
      {"m":"Aug","s":"Überschuss Kältepotential WP","lo":4.25,"hi":4.25},
      {"m":"Sep","s":"Überschuss Kältepotential WP","lo":3.22,"hi":3.22},
      {"m":"Okt","s":"Überschuss Kältepotential WP","lo":3.03,"hi":3.04},
      {"m":"Nov","s":"Überschuss Kältepotential WP","lo":2.93,"hi":3.74},
      {"m":"Dez","s":"Überschuss Kältepotential WP","lo":2.99,"hi":4.46},
      {"m":"Jan","s":"Bedarf Total","lo":2.97,"hi":2.97},
      {"m":"Feb","s":"Bedarf Total","lo":2.71,"hi":2.71},
      {"m":"Mrz","s":"Bedarf Total","lo":3.0,"hi":3.0},
      {"m":"Apr","s":"Bedarf Total","lo":3.0,"hi":3.0},
      {"m":"Mai","s":"Bedarf Total","lo":3.22,"hi":3.22},
      {"m":"Jun","s":"Bedarf Total","lo":3.83,"hi":3.83},
      {"m":"Jul","s":"Bedarf Total","lo":4.02,"hi":4.02},
      {"m":"Aug","s":"Bedarf Total","lo":4.25,"hi":4.25},
      {"m":"Sep","s":"Bedarf Total","lo":3.22,"hi":3.22},
      {"m":"Okt","s":"Bedarf Total","lo":3.03,"hi":3.03},
      {"m":"Nov","s":"Bedarf Total","lo":2.93,"hi":2.93},
      {"m":"Dez","s":"Bedarf Total","lo":2.99,"hi":2.99}
    ]
  },
  "spacing": 71,
  "resolve": {"scale": {"x": "independent", "y": "independent", "color": "independent", "strokeDash": "independent"}, "legend": {"color": "independent", "strokeDash": "independent"}},
  "vconcat": [
    {
      "spacing": 95.1,
      "resolve": {"scale": {"x": "independent", "y": "independent", "color": "independent", "strokeDash": "independent"}, "legend": {"color": "independent", "strokeDash": "independent"}},
      "hconcat": [
        {
          "width": 580,
          "height": 280,
          "title": {"text": "Deckungsgrade Nutzenergiebedarf Wärme", "dx": -41},
          "data": {"name": "tw"},
          "encoding": {
            "x": {"field": "t", "type": "quantitative", "scale": {"domain": [0, 11.67], "nice": false},
              "axis": {"values": [0,1,2,3,4,5,6,7,8,9,10,11], "title": null,
                "labelExpr": "['Jan','Feb','Mrz','Apr','Mai','Jun','Jul','Aug','Sep','Okt','Nov','Dez'][round(datum.value)]"}},
            "y": {"field": "lo", "type": "quantitative", "scale": {"domain": [0, 7], "nice": false},
              "axis": {"values": [0,1,2,3,4,5,6,7], "labels": false, "title": "Leistung [kW]", "titlePadding": 66.2}},
            "y2": {"field": "hi"},
            "color": {"field": "s", "type": "nominal",
              "scale": {"domain": ["Spitzenlast WP", "WRG KM", "Grundlast WP", "Spitzenlast fossil"], "range": ["#FFC000", "#9A4A0A", "#FF0000", "#FFFF00"]},
              "legend": {"title": null, "orient": "none", "legendX": -56, "legendY": 335, "direction": "horizontal", "columns": 4,
                "symbolType": "circle", "symbolSize": 18, "symbolStrokeWidth": 0, "labelFontSize": 19, "labelOffset": 1, "columnPadding": 24}}
          },
          "layer": [
            {"transform": [{"filter": "datum.s === 'Spitzenlast fossil'"}], "mark": {"type": "bar", "width": 5, "cornerRadius": 2.5}},
            {"transform": [{"filter": "datum.s === 'Spitzenlast WP' || datum.s === 'WRG KM'"}], "mark": {"type": "bar", "width": 6.5, "cornerRadius": 3}},
            {"transform": [{"filter": "datum.s === 'Grundlast WP'"}], "mark": {"type": "rule", "strokeWidth": 5, "strokeCap": "round"},
              "encoding": {"x2": {"field": "t2"}}}
          ]
        },
        {
          "width": 580,
          "height": 280,
          "title": {"text": "Deckungsgrade Nutzenergiebedarf Kälte", "dx": -40},
          "data": {"name": "tk"},
          "mark": {"type": "bar", "width": 6.5, "cornerRadius": 3},
          "encoding": {
            "x": {"field": "t", "type": "quantitative", "scale": {"domain": [0, 11.67], "nice": false},
              "axis": {"values": [0,1,2,3,4,5,6,7,8,9,10,11], "title": null,
                "labelExpr": "['Jan','Feb','Mrz','Apr','Mai','Jun','Jul','Aug','Sep','Okt','Nov','Dez'][round(datum.value)]"}},
            "y": {"field": "lo", "type": "quantitative", "scale": {"domain": [0, 7], "nice": false},
              "axis": {"values": [0,1,2,3,4,5,6,7], "labels": false, "title": "Leistung [kW]", "titlePadding": 66.2}},
            "y2": {"field": "hi"},
            "color": {"field": "s", "type": "nominal",
              "scale": {"domain": ["Grundlast", "Spitzenlast", "Freecooling", "KRG WP"], "range": ["#00B0F0", "#0070C0", "#00B050", "#7030A0"]},
              "legend": {"title": null, "orient": "none", "legendX": 8, "legendY": 335, "direction": "horizontal", "columns": 4,
                "symbolType": "circle", "symbolSize": 18, "symbolStrokeWidth": 0, "labelFontSize": 19, "labelOffset": 1, "columnPadding": 21}}
          }
        }
      ]
    },
    {
      "spacing": 77.7,
      "resolve": {"scale": {"x": "independent", "y": "independent", "color": "independent", "strokeDash": "independent"}, "legend": {"color": "independent", "strokeDash": "independent"}},
      "hconcat": [
        {
          "width": 604,
          "height": 221,
          "title": {"text": "Deckungsgrade Nutzenergiebedarf Wärme", "dx": -43},
          "data": {"name": "bw"},
          "encoding": {
            "x": {"field": "m", "type": "ordinal", "sort": ["Jan","Feb","Mrz","Apr","Mai","Jun","Jul","Aug","Sep","Okt","Nov","Dez"],
              "bandPosition": 0.5, "scale": {"type": "band", "paddingInner": 0, "paddingOuter": 0},
              "axis": {"tickBand": "extent", "title": null, "labelAngle": 0}},
            "y": {"field": "hi", "type": "quantitative", "stack": null, "scale": {"domain": [0, 6], "nice": false},
              "axis": {"values": [0,1,2,3,4,5,6], "labels": false, "title": "Energie [MWh/M]", "titlePadding": 54.3}}
          },
          "layer": [
            {
              "transform": [{"filter": "datum.s !== 'Bedarf Total'"}],
              "mark": {"type": "area", "opacity": 0.75},
              "encoding": {
                "y2": {"field": "lo"},
                "color": {"field": "s", "type": "nominal",
                  "scale": {"domain": ["Deckungsanteil WRG KM", "Deckungsanteil Grundlast WP", "Deckungsanteil Spitzenlast WP", "Deckungsanteil Spitzenlast fossil", "Überschuss Abwärme KM"],
                    "range": ["#9A4A0A", "#FF0000", "#FFC000", "#FFFF00", "#BFBFBF"]},
                  "legend": {"title": null, "orient": "none", "legendX": -55.3, "legendY": 276, "columns": 2, "direction": "horizontal",
                    "symbolType": "M-1,-0.17H1V0.17H-1Z", "symbolSize": 3025, "symbolStrokeWidth": 0, "clipHeight": 22,
                    "rowPadding": 10, "columnPadding": 19, "labelFontSize": 17.5, "labelOffset": 6}}
              }
            },
            {
              "transform": [{"filter": "datum.s === 'Bedarf Total'"}],
              "mark": {"type": "line", "color": "#000", "strokeWidth": 5, "strokeCap": "butt"},
              "encoding": {
                "strokeDash": {"field": "s", "type": "nominal", "scale": {"domain": ["Bedarf Total"], "range": [[17, 10]]},
                  "legend": {"title": null, "orient": "none", "legendX": 263.2, "legendY": 340,
                    "symbolType": "stroke", "symbolSize": 2916, "symbolStrokeWidth": 5, "symbolStrokeColor": "#000", "clipHeight": 22,
                    "labelFontSize": 17.5, "labelOffset": 4.5}}
              }
            }
          ]
        },
        {
          "width": 605,
          "height": 221,
          "title": {"text": "Deckungsgrade Nutzenergiebedarf Kälte", "dx": -43},
          "data": {"name": "bk"},
          "encoding": {
            "x": {"field": "m", "type": "ordinal", "sort": ["Jan","Feb","Mrz","Apr","Mai","Jun","Jul","Aug","Sep","Okt","Nov","Dez"],
              "bandPosition": 0.5, "scale": {"type": "band", "paddingInner": 0, "paddingOuter": 0},
              "axis": {"tickBand": "extent", "title": null, "labelAngle": 0}},
            "y": {"field": "hi", "type": "quantitative", "stack": null, "scale": {"domain": [0, 6], "nice": false},
              "axis": {"values": [0,1,2,3,4,5,6], "labels": false, "title": "Energie [MWh/M]", "titlePadding": 58}}
          },
          "layer": [
            {
              "transform": [{"filter": "datum.s !== 'Bedarf Total'"}],
              "mark": {"type": "area", "opacity": 0.75},
              "encoding": {
                "y2": {"field": "lo"},
                "color": {"field": "s", "type": "nominal",
                  "scale": {"domain": ["Deckungsanteil KRG WP", "Deckungsanteil Freecooling", "Deckungsanteil Grundlast", "Deckungsanteil Spitzenlast", "Überschuss Kältepotential WP"],
                    "range": ["#7030A0", "#00B050", "#00B0F0", "#0070C0", "#BFBFBF"]},
                  "legend": {"title": null, "orient": "none", "legendX": -37, "legendY": 276, "columns": 2, "direction": "horizontal",
                    "symbolType": "M-1,-0.17H1V0.17H-1Z", "symbolSize": 3025, "symbolStrokeWidth": 0, "clipHeight": 22,
                    "rowPadding": 10, "columnPadding": 8, "labelFontSize": 17.5, "labelOffset": 6}}
              }
            },
            {
              "transform": [{"filter": "datum.s === 'Bedarf Total'"}],
              "mark": {"type": "line", "color": "#000", "strokeWidth": 5, "strokeCap": "butt"},
              "encoding": {
                "strokeDash": {"field": "s", "type": "nominal", "scale": {"domain": ["Bedarf Total"], "range": [[17, 10]]},
                  "legend": {"title": null, "orient": "none", "legendX": 265.5, "legendY": 340,
                    "symbolType": "stroke", "symbolSize": 2916, "symbolStrokeWidth": 5, "symbolStrokeColor": "#000", "clipHeight": 22,
                    "labelFontSize": 17.5, "labelOffset": 4.5}}
              }
            }
          ]
        }
      ]
    }
  ]
}
